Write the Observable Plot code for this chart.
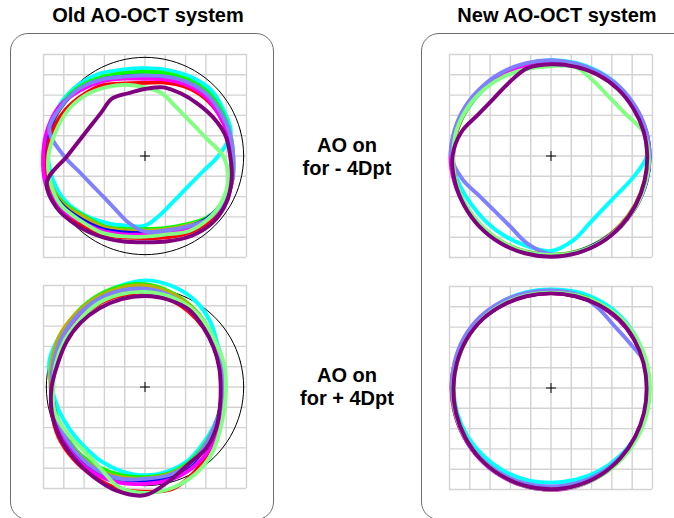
<!DOCTYPE html>
<html><head><meta charset="utf-8">
<script src="https://cdn.jsdelivr.net/npm/d3@7"></script>
<script src="https://cdn.jsdelivr.net/npm/@observablehq/plot@0.6"></script>
<style>
body{margin:0;width:674px;height:518px;overflow:hidden;background:#fff;position:relative;font-family:"Liberation Sans",Arial,sans-serif;color:#000;}
.box{position:absolute;border:1px solid #6e6e6e;border-radius:18px;box-sizing:border-box;}
.title{position:absolute;font-weight:bold;font-size:20px;line-height:20px;white-space:nowrap;transform:translateX(-50%);}
.label{position:absolute;font-weight:bold;font-size:20px;line-height:23px;text-align:center;white-space:nowrap;transform:translateX(-50%);}
.panel{position:absolute;width:233px;height:233px;}
</style></head><body>
<div class="box" style="left:10px;top:33px;width:264px;height:487px;"></div>
<div class="box" style="left:421px;top:33px;width:290px;height:487px;"></div>
<div id="t0" class="title" style="left:148px;top:5px;"></div>
<div id="t1" class="title" style="left:557px;top:5px;"></div>
<div id="l0" class="label" style="left:347px;top:134px;"></div>
<div id="l1" class="label" style="left:347px;top:364px;"></div>
<div id="pTL" class="panel" style="left:28px;top:39px;"></div>
<div id="pBL" class="panel" style="left:28px;top:270px;"></div>
<div id="pTR" class="panel" style="left:434px;top:39px;"></div>
<div id="pBR" class="panel" style="left:434px;top:271px;"></div>
<script>
const panelTitles = ["Old AO-OCT system", "New AO-OCT system"];
const rowLabels = [["AO on", "for - 4Dpt"], ["AO on", "for + 4Dpt"]];
const gridTicks = [-5,-4,-3,-2,-1,0,1,2,3,4,5];
const seriesOrder = ["cyan","green","olive","blue","red","magenta","slate","lightgreen","purple"];
const seriesColors = ["#00ffff","#00ff00","#bbb000","#0000ff","#ff0000","#ff00ff","#8080ff","#80ff80","#800080"];
const centerMark = [[0,0]];
// contour radius read every 15 degrees (0 = right, counter-clockwise), in grid cells
const angles = [0,15,30,45,60,75,90,105,120,135,150,165,180,195,210,225,240,255,270,285,300,315,330,345];
const refCircle = [4.86,4.86,4.86,4.86,4.86,4.86,4.86,4.86,4.86,4.86,4.86,4.86,4.86,4.86,4.86,4.86,4.86,4.86,4.86,4.86,4.86,4.86,4.86,4.86];

// Old system, AO on for -4 Dpt
const oldMinus4 = {
  cyan:       [3.61,4.38,4.48,4.6,4.5,4.38,4.32,4.4,4.65,4.82,4.9,4.85,4.78,4.68,4.5,4.15,3.8,3.55,3.43,2.98,2.67,2.57,2.65,2.95],
  green:      [4.35,4.34,4.38,4.42,4.32,4.2,4.15,4.22,4.45,4.72,4.84,4.87,4.88,4.88,4.62,4.2,4.0,3.72,3.6,3.68,3.91,4.3,4.5,4.47],
  olive:      [4.2,4.22,4.2,4.22,4.1,3.96,3.88,4.0,4.3,4.62,4.78,4.82,4.83,4.85,4.68,4.25,4.05,3.8,3.68,3.75,3.97,4.38,4.49,4.42],
  blue:       [4.25,4.23,4.22,4.26,4.12,4.02,3.95,4.05,4.32,4.62,4.8,4.88,4.92,4.92,4.75,4.42,4.16,3.9,3.8,3.85,4.08,4.35,4.44,4.42],
  red:        [4.25,4.22,4.18,4.1,3.95,3.75,3.6,3.7,4.04,4.28,4.53,4.72,4.83,4.95,4.9,4.65,4.42,4.15,4.04,4.15,4.36,4.52,4.54,4.45],
  magenta:    [4.25,4.22,4.18,4.17,4.05,3.9,3.8,3.95,4.25,4.55,4.88,4.98,5.02,5.08,4.95,4.52,4.25,4.0,3.87,3.95,4.15,4.4,4.45,4.38],
  slate:      [4.35,4.33,4.3,4.31,4.2,4.05,3.96,4.05,4.35,4.65,4.8,4.88,3.99,3.28,2.96,2.87,2.99,3.35,3.73,3.8,4.03,4.4,4.48,4.45],
  lightgreen: [3.85,3.18,2.87,2.78,2.89,3.2,3.38,3.63,3.9,4.2,4.42,4.56,4.76,4.84,4.8,4.5,4.34,4.1,3.97,4.0,4.28,4.4,4.4,4.25],
  purple:     [4.2,4.08,3.85,3.65,3.55,3.5,3.3,3.2,3.26,3.04,3.05,3.28,3.83,5.01,5.05,4.8,4.55,4.35,4.25,4.35,4.55,4.68,4.62,4.42]
};

// Old system, AO on for +4 Dpt
const oldPlus4 = {
  cyan:       [3.92,4.02,4.14,4.55,4.92,5.15,5.25,5.12,5.0,4.92,4.9,4.88,4.6,4.4,4.25,4.19,4.25,4.31,4.35,4.3,4.2,4.0,3.9,3.86],
  green:      [3.85,3.9,4.06,4.3,4.58,4.85,5.07,5.1,5.05,4.95,4.82,4.68,4.6,4.58,4.58,4.6,4.55,4.5,4.44,4.42,4.3,4.1,3.95,3.87],
  olive:      [3.85,3.9,4.05,4.28,4.55,4.8,5.0,5.02,5.0,4.95,4.9,4.76,4.65,4.63,4.63,4.66,4.66,4.6,4.5,4.46,4.35,4.13,3.96,3.87],
  blue:       [3.8,3.86,3.98,4.18,4.42,4.64,4.8,4.87,4.87,4.8,4.72,4.64,4.6,4.62,4.66,4.72,4.76,4.72,4.6,4.6,4.45,4.2,3.97,3.85],
  red:        [3.75,3.8,3.92,4.1,4.3,4.48,4.6,4.66,4.68,4.65,4.6,4.6,4.6,4.75,4.92,5.0,5.08,5.18,5.16,5.2,4.86,4.45,4.1,3.85],
  magenta:    [3.78,3.83,3.95,4.15,4.38,4.56,4.7,4.76,4.76,4.72,4.64,4.58,4.55,4.62,4.78,4.88,4.92,4.88,4.77,4.74,4.62,4.42,4.1,3.88],
  slate:      [3.85,3.9,4.02,4.22,4.45,4.68,4.84,4.9,4.9,4.84,4.76,4.66,4.6,4.6,4.62,4.68,4.72,4.68,4.52,4.5,4.38,4.15,3.95,3.87],
  lightgreen: [3.99,4.05,4.1,4.3,4.5,4.62,4.68,4.72,4.72,4.62,4.58,4.54,4.52,4.62,4.47,4.34,4.53,5.08,5.22,5.15,4.95,4.65,4.27,4.05],
  purple:     [3.73,3.78,3.9,4.1,4.38,4.45,4.48,4.48,4.48,4.48,4.46,4.45,4.6,4.75,4.86,4.95,5.1,5.3,5.33,4.76,4.35,4.27,4.05,3.82]
};

// New system, AO on for -4 Dpt
const newMinus4 = {
  cyan:       [4.72,4.75,4.78,4.8,4.78,4.75,4.72,4.7,4.68,4.67,4.72,4.8,4.85,4.75,4.6,4.55,4.55,4.6,4.68,4.29,3.82,3.66,3.77,4.17],
  green:      [4.78,4.76,4.73,4.7,4.66,4.63,4.62,4.64,4.68,4.73,4.78,4.82,4.84,4.86,4.86,4.86,4.87,4.87,4.87,4.87,4.85,4.83,4.8,4.79],
  olive:      [4.75,4.74,4.72,4.68,4.62,4.57,4.55,4.57,4.62,4.68,4.74,4.8,4.85,4.85,4.86,4.86,4.87,4.88,4.88,4.88,4.86,4.82,4.79,4.77],
  blue:       [4.86,4.84,4.78,4.72,4.66,4.62,4.6,4.62,4.66,4.72,4.78,4.83,4.85,4.88,4.88,4.88,4.9,4.9,4.9,4.9,4.88,4.87,4.87,4.87],
  red:        [4.83,4.82,4.77,4.71,4.65,4.6,4.58,4.6,4.65,4.71,4.77,4.8,4.82,4.87,4.9,4.92,4.92,4.92,4.92,4.92,4.9,4.88,4.86,4.84],
  magenta:    [4.8,4.79,4.75,4.7,4.65,4.61,4.6,4.62,4.67,4.73,4.8,4.88,4.95,4.93,4.9,4.9,4.92,4.93,4.93,4.93,4.9,4.87,4.84,4.82],
  slate:      [4.85,4.85,4.82,4.8,4.75,4.72,4.72,4.74,4.78,4.82,4.88,4.92,4.92,4.5,4.02,3.88,4.01,4.47,4.85,4.9,4.9,4.88,4.86,4.85],
  lightgreen: [4.82,4.68,4.21,4.08,4.24,4.55,4.42,4.45,4.55,4.65,4.75,4.82,4.82,4.85,4.85,4.85,4.87,4.88,4.88,4.9,4.9,4.88,4.86,4.84],
  purple:     [4.74,4.72,4.68,4.66,4.62,4.56,4.52,4.48,4.16,4.0,4.12,4.57,4.85,4.9,4.92,4.95,4.96,4.96,4.96,4.95,4.93,4.88,4.82,4.77]
};

// New system, AO on for +4 Dpt
const newPlus4 = {
  cyan:       [4.82,4.84,4.88,4.92,4.92,4.9,4.86,4.88,4.9,4.9,4.86,4.82,4.8,4.78,4.75,4.72,4.7,4.68,4.66,4.68,4.72,4.76,4.8,4.82],
  green:      [4.82,4.82,4.82,4.82,4.8,4.76,4.75,4.76,4.78,4.8,4.8,4.8,4.8,4.83,4.87,4.92,4.96,4.99,5.0,4.99,4.96,4.92,4.87,4.84],
  olive:      [4.82,4.82,4.81,4.8,4.78,4.75,4.72,4.74,4.77,4.8,4.8,4.8,4.82,4.84,4.87,4.91,4.95,4.97,4.98,4.97,4.95,4.91,4.87,4.84],
  blue:       [4.78,4.78,4.76,4.74,4.72,4.7,4.7,4.72,4.75,4.8,4.83,4.85,4.85,4.87,4.9,4.93,4.95,4.96,4.97,4.96,4.93,4.88,4.83,4.8],
  red:        [4.76,4.76,4.75,4.74,4.72,4.69,4.68,4.7,4.74,4.8,4.85,4.89,4.9,4.9,4.91,4.93,4.96,4.99,5.0,4.98,4.94,4.88,4.82,4.78],
  magenta:    [4.76,4.76,4.75,4.74,4.72,4.69,4.68,4.7,4.74,4.8,4.84,4.86,4.86,4.88,4.91,4.95,4.98,5.01,5.02,5.0,4.95,4.88,4.82,4.78],
  slate:      [4.78,4.78,4.46,4.37,4.58,4.78,4.8,4.84,4.9,4.95,4.95,4.92,4.89,4.88,4.88,4.88,4.88,4.87,4.85,4.85,4.85,4.83,4.8,4.78],
  lightgreen: [4.88,4.88,4.88,4.86,4.8,4.74,4.7,4.72,4.76,4.8,4.8,4.8,4.82,4.85,4.88,4.92,4.96,4.99,5.0,4.99,4.97,4.94,4.91,4.89],
  purple:     [4.71,4.72,4.74,4.76,4.72,4.68,4.66,4.68,4.72,4.78,4.8,4.8,4.81,4.84,4.88,4.93,4.96,4.98,4.99,4.97,4.93,4.86,4.79,4.74]
};

const rad = Math.PI / 180;
function contour(radii, series) {
  return radii.map((r, i) => ({series, i, x: r * Math.cos(angles[i] * rad), y: r * Math.sin(angles[i] * rad)}));
}
function toRows(panel) {
  return seriesOrder.flatMap(s => panel[s] ? contour(panel[s], s) : []);
}

function makePanel(data, withRef) {
  return Plot.plot({
    width: 233, height: 233, margin: 15,
    style: {background: "transparent", overflow: "visible"},
    x: {domain: [-5, 5], axis: null},
    y: {domain: [-5, 5], axis: null},
    color: {domain: seriesOrder, range: seriesColors},
    marks: [
      Plot.ruleX(gridTicks, {stroke: "#d3d3d3", strokeWidth: 1.4}),
      Plot.ruleY(gridTicks, {stroke: "#d3d3d3", strokeWidth: 1.4}),
      withRef ? Plot.line(contour(refCircle, "ref"), {x: "x", y: "y", curve: "catmull-rom-closed", stroke: "black", strokeWidth: 1}) : null,
      Plot.line(toRows(data), {x: "x", y: "y", z: "series", stroke: "series", curve: "catmull-rom-closed", strokeWidth: 3.9, strokeLinejoin: "round"}),
      Plot.dot(centerMark, {x: d => d[0], y: d => d[1], symbol: "plus", r: 3.3, stroke: "black", strokeWidth: 1})
    ]
  });
}

document.getElementById("t0").textContent = panelTitles[0];
document.getElementById("t1").textContent = panelTitles[1];
document.getElementById("l0").innerHTML = rowLabels[0].join("<br>");
document.getElementById("l1").innerHTML = rowLabels[1].join("<br>");
document.getElementById("pTL").appendChild(makePanel(oldMinus4, true));
document.getElementById("pBL").appendChild(makePanel(oldPlus4, true));
document.getElementById("pTR").appendChild(makePanel(newMinus4, false));
document.getElementById("pBR").appendChild(makePanel(newPlus4, false));
</script>
</body></html>
